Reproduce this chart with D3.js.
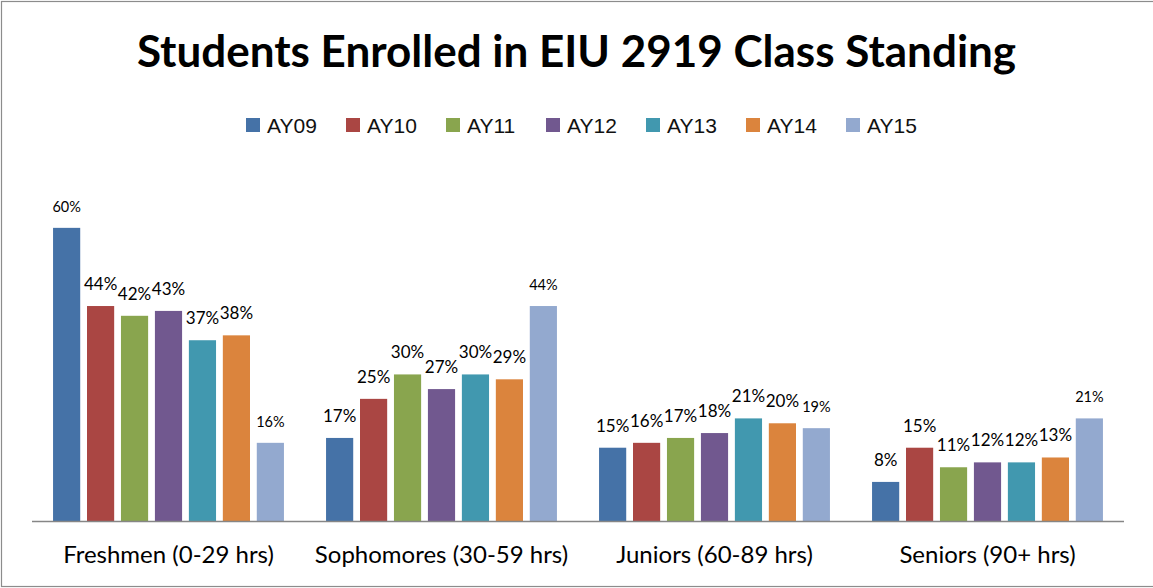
<!DOCTYPE html>
<html>
<head>
<meta charset="utf-8">
<script src="https://cdn.jsdelivr.net/npm/d3@7"></script>
<style>
  body { margin: 0; background: #fff; }
  svg { display: block; }
</style>
</head>
<body>
<script>
const svgWidth = 1153;
const svgHeight = 588;

// data
const categories = ['Freshmen (0-29 hrs)', 'Sophomores (30-59 hrs)', 'Juniors (60-89 hrs)', 'Seniors (90+ hrs)'];
const years = ['AY09', 'AY10', 'AY11', 'AY12', 'AY13', 'AY14', 'AY15'];
const AY09 = [60, 17, 15, 8];
const AY10 = [44, 25, 16, 15];
const AY11 = [42, 30, 17, 11];
const AY12 = [43, 27, 18, 12];
const AY13 = [37, 30, 21, 12];
const AY14 = [38, 29, 20, 13];
const AY15 = [16, 44, 19, 21];
const seriesValues = [AY09, AY10, AY11, AY12, AY13, AY14, AY15];
const colors = ['#4572A7', '#AA4643', '#89A54E', '#71588F', '#4198AF', '#DB843D', '#93A9CF'];

const svg = d3.select('body')
              .append('svg')
              .attr('width', svgWidth)
              .attr('height', svgHeight);

// frame (right side is cut off in the original)
svg.append('rect')
   .attr('x', 1.5).attr('y', 1.5)
   .attr('width', svgWidth + 10).attr('height', 585)
   .attr('fill', 'none')
   .attr('stroke', '#8c8c8c')
   .attr('stroke-width', 1.2);

svg.append('text')
   .attr('x', svgWidth / 2)
   .attr('y', 67)
   .attr('text-anchor', 'middle')
   .style('font-family', 'Lato, sans-serif')
   .style('font-weight', 'bold')
   .style('font-size', '44px')
   .text('Students Enrolled in EIU 2919 Class Standing');

// legend
const legend = svg.selectAll('.legend')
                  .data(years)
                  .enter()
                  .append('g')
                  .attr('transform', (d, i) => `translate(${246 + i * 100}, 118)`);
legend.append('rect')
      .attr('width', 14).attr('height', 14)
      .attr('fill', (d, i) => colors[i]);
legend.append('text')
      .attr('x', 21).attr('y', 15)
      .style('font-family', '"Liberation Sans", Arial, sans-serif')
      .style('font-size', '21px')
      .style('fill', '#111')
      .text(d => d);

const plotLeft = 32, plotRight = 1124, plotTop = 179, plotBottom = 521;

const scaleX = d3.scaleBand()
                 .domain(categories)
                 .range([plotLeft, plotRight]);

const scaleInner = d3.scaleBand()
                     .domain(years)
                     .range([0, scaleX.bandwidth()])
                     .paddingInner(0.2)
                     .paddingOuter(0.62);

const scaleY = d3.scaleLinear()
                 .domain([0, 70])
                 .range([plotBottom, plotTop]);

// labels on the first bar and on the AY15 bars were drawn smaller
const smallLabel = (ci, si) => si === 6 || (ci === 0 && si === 0);

const bars = [];
seriesValues.forEach((vals, si) => {
  vals.forEach((v, ci) => bars.push({ cat: categories[ci], ci, si, year: years[si], v }));
});

svg.selectAll('.bar')
   .data(bars)
   .enter()
   .append('rect')
   .attr('x', d => scaleX(d.cat) + scaleInner(d.year))
   .attr('y', d => scaleY(d.v))
   .attr('width', scaleInner.bandwidth())
   .attr('height', d => scaleY(0) - scaleY(d.v))
   .attr('fill', d => colors[d.si]);

svg.selectAll('.label')
   .data(bars)
   .enter()
   .append('text')
   .attr('x', d => scaleX(d.cat) + scaleInner(d.year) + scaleInner.bandwidth() / 2)
   .attr('y', d => scaleY(d.v) - 16)
   .attr('text-anchor', 'middle')
   .style('font-family', 'Lato, sans-serif')
   .style('font-size', d => smallLabel(d.ci, d.si) ? '14.5px' : '17px')
   .text(d => d.v + '%');

// category axis
svg.append('line')
   .attr('x1', plotLeft).attr('x2', plotRight)
   .attr('y1', plotBottom + 0.5).attr('y2', plotBottom + 0.5)
   .attr('stroke', '#868686')
   .attr('stroke-width', 1.5);

svg.selectAll('.cat')
   .data(categories)
   .enter()
   .append('text')
   .attr('x', d => scaleX(d) + scaleX.bandwidth() / 2)
   .attr('y', 563)
   .attr('text-anchor', 'middle')
   .style('font-family', 'Lato, sans-serif')
   .style('font-size', '24px')
   .text(d => d);
</script>
</body>
</html>
